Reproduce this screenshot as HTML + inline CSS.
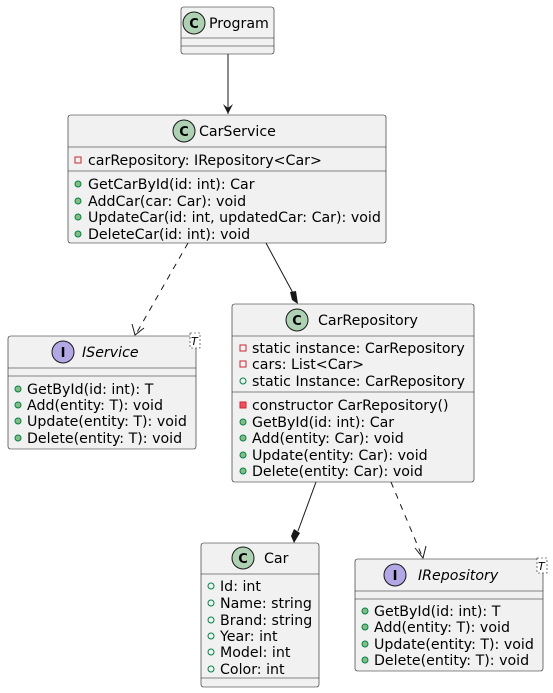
<!DOCTYPE html>
<html><head><meta charset="utf-8"><style>
html,body{margin:0;padding:0;background:#fff}
svg{display:block}
text{font-family:"DejaVu Sans","Liberation Sans",sans-serif;font-size:14.2px;fill:#000}
.b{fill:#F1F1F1;stroke:#181818;stroke-width:0.6}
.l{stroke:#181818;stroke-width:0.6}
.ci{stroke:#181818;stroke-width:1}
.pm{fill:#84BE84;stroke:#038048;stroke-width:1}
.pf{fill:none;stroke:#038048;stroke-width:1}
.xf{fill:none;stroke:#C82930;stroke-width:1}
.xm{fill:#F24D5C;stroke:#C82930;stroke-width:1}
.ar{stroke:#181818;stroke-width:1;fill:none}
.ic{font-weight:bold;font-size:13px}
</style></head><body>
<svg width="553" height="693" viewBox="0 0 553 693" xmlns="http://www.w3.org/2000/svg">
<line class="ar" x1="228" y1="54" x2="228" y2="114"/>
<polygon points="223,104 228,114 233,104 228,108" fill="#181818"/>
<line class="ar" x1="188" y1="243" x2="136" y2="334" stroke-dasharray="6,6"/>
<polyline class="ar" points="132,324 135,335 144,328" stroke-width="1.3"/>
<line class="ar" x1="266" y1="243" x2="293" y2="293"/>
<polygon points="298,304 292,300 290,292 296,291" fill="#181818"/>
<line class="ar" x1="316" y1="482" x2="298" y2="531"/>
<polygon points="294,543 291,536 294,529 300,533" fill="#181818"/>
<line class="ar" x1="391" y1="482" x2="422" y2="556" stroke-dasharray="6,6"/>
<polyline class="ar" points="415,548 423,558 426,546" stroke-width="1.3"/>

<rect class="b" x="181" y="7" width="93" height="47" rx="2.5"/>
<circle class="ci" cx="194" cy="23" r="11" fill="#ADD1B2"/>
<text x="194" y="28" text-anchor="middle" class="ic">C</text>
<text x="209" y="28">Program</text>
<line class="l" x1="181" y1="38" x2="274" y2="38"/>
<line class="l" x1="181" y1="46" x2="274" y2="46"/>

<rect class="b" x="68" y="115" width="318" height="128" rx="2.5"/>
<circle class="ci" cx="184" cy="131" r="11" fill="#ADD1B2"/>
<text x="184" y="136" text-anchor="middle" class="ic">C</text>
<text x="199" y="136">CarService</text>
<line class="l" x1="68" y1="147" x2="386" y2="147"/>
<rect class="xf" x="75" y="157" width="6" height="6"/>
<text x="88" y="165">carRepository: IRepository&lt;Car&gt;</text>
<line class="l" x1="68" y1="171" x2="386" y2="171"/>
<circle class="pm" cx="78" cy="184" r="3"/><text x="88" y="189">GetCarById(id: int): Car</text>
<circle class="pm" cx="78" cy="201" r="3"/><text x="88" y="206">AddCar(car: Car): void</text>
<circle class="pm" cx="78" cy="217" r="3"/><text x="88" y="222">UpdateCar(id: int, updatedCar: Car): void</text>
<circle class="pm" cx="78" cy="234" r="3"/><text x="88" y="239">DeleteCar(id: int): void</text>

<rect class="b" x="8" y="336" width="188" height="113" rx="2.5"/>
<circle class="ci" cx="63" cy="352" r="11" fill="#B4A7E5"/>
<text x="63" y="357" text-anchor="middle" class="ic">I</text>
<text x="82" y="357" font-style="italic">IService</text>
<rect x="190" y="333" width="10" height="15" fill="#fff" stroke="#181818" stroke-width="0.6" stroke-dasharray="2,2"/>
<text x="191" y="345" font-style="italic" style="font-size:11px">T</text>
<line class="l" x1="8" y1="368" x2="196" y2="368"/>
<line class="l" x1="8" y1="376" x2="196" y2="376"/>
<circle class="pm" cx="18" cy="389" r="3"/><text x="27" y="394">GetById(id: int): T</text>
<circle class="pm" cx="18" cy="405" r="3"/><text x="27" y="410">Add(entity: T): void</text>
<circle class="pm" cx="18" cy="421" r="3"/><text x="27" y="426">Update(entity: T): void</text>
<circle class="pm" cx="18" cy="438" r="3"/><text x="27" y="443">Delete(entity: T): void</text>

<rect class="b" x="232" y="304" width="242" height="178" rx="2.5"/>
<circle class="ci" cx="297" cy="320" r="11" fill="#ADD1B2"/>
<text x="297" y="325" text-anchor="middle" class="ic">C</text>
<text x="318" y="325">CarRepository</text>
<line class="l" x1="232" y1="336" x2="474" y2="336"/>
<rect class="xf" x="240" y="345" width="6" height="6"/><text x="252" y="353">static instance: CarRepository</text>
<rect class="xf" x="240" y="361" width="6" height="6"/><text x="252" y="369">cars: List&lt;Car&gt;</text>
<circle class="pf" cx="243" cy="381" r="3"/><text x="252" y="386">static Instance: CarRepository</text>
<line class="l" x1="232" y1="392" x2="474" y2="392"/>
<rect class="xm" x="240" y="402" width="6" height="6"/><text x="252" y="410">constructor CarRepository()</text>
<circle class="pm" cx="243" cy="422" r="3"/><text x="252" y="427">GetById(id: int): Car</text>
<circle class="pm" cx="243" cy="438" r="3"/><text x="252" y="443">Add(entity: Car): void</text>
<circle class="pm" cx="243" cy="455" r="3"/><text x="252" y="460">Update(entity: Car): void</text>
<circle class="pm" cx="243" cy="471" r="3"/><text x="252" y="476">Delete(entity: Car): void</text>

<rect class="b" x="201" y="543" width="118" height="144" rx="2.5"/>
<circle class="ci" cx="243" cy="558" r="11" fill="#ADD1B2"/>
<text x="243" y="563" text-anchor="middle" class="ic">C</text>
<text x="264" y="563">Car</text>
<line class="l" x1="201" y1="574" x2="319" y2="574"/>
<circle class="pf" cx="211" cy="586" r="3"/><text x="220" y="591">Id: int</text>
<circle class="pf" cx="211" cy="603" r="3"/><text x="220" y="608">Name: string</text>
<circle class="pf" cx="211" cy="620" r="3"/><text x="220" y="625">Brand: string</text>
<circle class="pf" cx="211" cy="636" r="3"/><text x="220" y="641">Year: int</text>
<circle class="pf" cx="211" cy="652" r="3"/><text x="220" y="657">Model: int</text>
<circle class="pf" cx="211" cy="669" r="3"/><text x="220" y="674">Color: int</text>
<line class="l" x1="201" y1="678" x2="319" y2="678"/>

<rect class="b" x="355" y="559" width="188" height="112" rx="2.5"/>
<circle class="ci" cx="395" cy="575" r="11" fill="#B4A7E5"/>
<text x="395" y="580" text-anchor="middle" class="ic">I</text>
<text x="418" y="580" font-style="italic">IRepository</text>
<rect x="537" y="558" width="10" height="15" fill="#fff" stroke="#181818" stroke-width="0.6" stroke-dasharray="2,2"/>
<text x="538" y="570" font-style="italic" style="font-size:11px">T</text>
<line class="l" x1="355" y1="591" x2="543" y2="591"/>
<line class="l" x1="355" y1="599" x2="543" y2="599"/>
<circle class="pm" cx="365" cy="611" r="3"/><text x="374" y="616">GetById(id: int): T</text>
<circle class="pm" cx="365" cy="627" r="3"/><text x="374" y="632">Add(entity: T): void</text>
<circle class="pm" cx="365" cy="644" r="3"/><text x="374" y="649">Update(entity: T): void</text>
<circle class="pm" cx="365" cy="660" r="3"/><text x="374" y="665">Delete(entity: T): void</text>
</svg>
</body></html>
